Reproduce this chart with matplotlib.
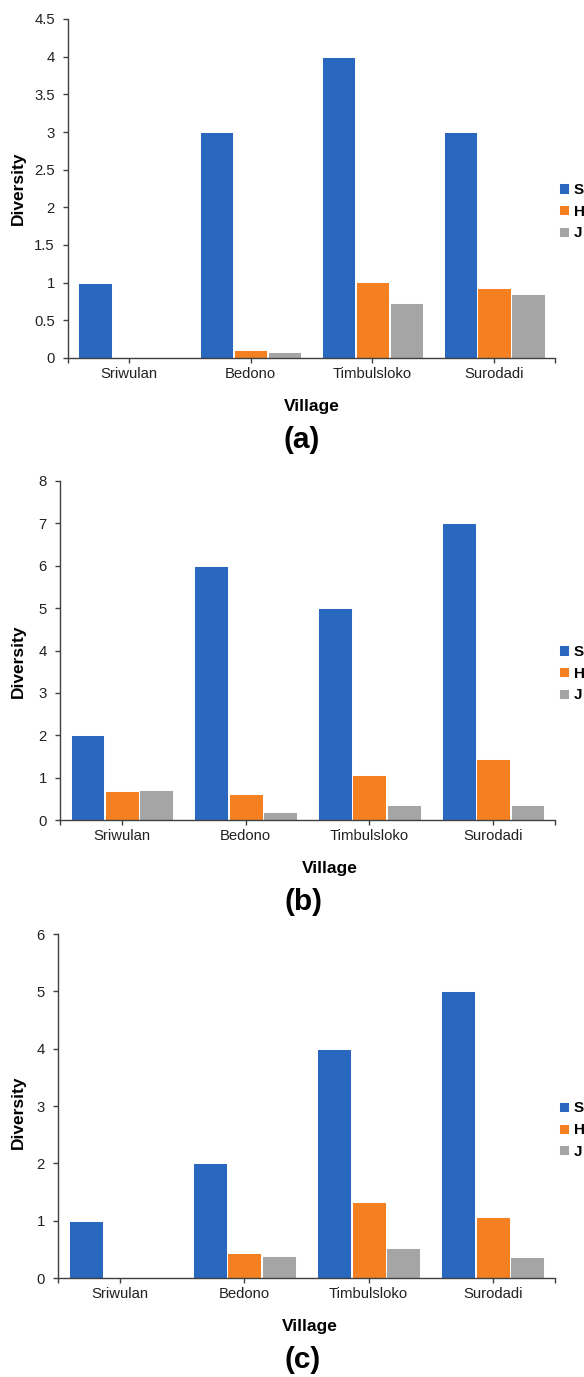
import numpy as np
import matplotlib
matplotlib.use('Agg')
import matplotlib.pyplot as plt

plt.rcParams['font.family'] = ['Liberation Sans', 'DejaVu Sans']

# ---- #
# data #
# ---- #
villages = ['Sriwulan', 'Bedono', 'Timbulsloko', 'Surodadi']
series_names = ['S', 'H', 'J']
colors = ['#2A67BF', '#F58022', '#A5A5A5']

# panel (a)
a_S = [1, 3, 4, 3]
a_H = [0, 0.10, 1.01, 0.93]
a_J = [0, 0.08, 0.73, 0.85]
# panel (b)
b_S = [2, 6, 5, 7]
b_H = [0.69, 0.61, 1.07, 1.43]
b_J = [0.71, 0.20, 0.35, 0.36]
# panel (c)
c_S = [1, 2, 4, 5]
c_H = [0, 0.44, 1.32, 1.06]
c_J = [0, 0.39, 0.52, 0.37]

W, H = 584, 1377
fig = plt.figure(figsize=(W / 100, H / 100), dpi=100)


def rect(left, top, right, bottom):
    return [left / W, 1 - bottom / H, (right - left) / W, (bottom - top) / H]


def fx(px):
    return px / W


def fy(py):
    return 1 - py / H


# axes box, values, y max, step, tag, legend y, ylabel y, xlabel x, tag x
panels = [
    (rect(68, 19, 555, 358), [a_S, a_H, a_J], 4.5, 0.5, '(a)', 211.5, 188.5, 312, 302),
    (rect(60, 481, 555, 820), [b_S, b_H, b_J], 8, 1, '(b)', 673.5, 661.5, 330, 303),
    (rect(58, 934, 555, 1278), [c_S, c_H, c_J], 6, 1, '(c)', 1130, 1112, 310, 303),
]

x = np.arange(len(villages))
bw = 0.274
dark = '#404040'

for pos, series, ymax, step, tag, leg_y, ylab_y, xlab_x, tag_x in panels:
    ax = fig.add_axes(pos)
    bars = []
    for i, vals in enumerate(series):
        b = ax.bar(x + (i - 1) * (bw + 0.004), vals, bw, color=colors[i],
                   edgecolor='white', linewidth=0.7, label=series_names[i])
        bars.append(b)
    ax.set_xlim(-0.5, 3.5)
    ax.set_ylim(0, ymax)
    yt = np.arange(0, ymax + step / 2, step)
    ax.set_yticks(yt)
    ax.set_yticklabels(['%g' % v for v in yt])
    ax.set_xticks(x)
    ax.set_xticklabels(villages)
    ax.set_xticks([-0.5, 3.5], minor=True)
    for s in ['top', 'right']:
        ax.spines[s].set_visible(False)
    for s in ['left', 'bottom']:
        ax.spines[s].set_color(dark)
        ax.spines[s].set_linewidth(1)
    ax.tick_params(axis='both', which='both', direction='out', length=3.6,
                   width=1, color=dark, labelsize=10.7, labelcolor='#222222')
    ax.tick_params(axis='x', pad=3)
    ax.tick_params(axis='y', pad=5.8)

    bottom_px = (1 - pos[1]) * H
    fig.text(fx(18.5), fy(ylab_y), 'Diversity', rotation=90, ha='center',
             va='center', fontsize=12.5, fontweight='bold')
    fig.text(fx(xlab_x), fy(bottom_px + 53), 'Village', ha='center',
             va='baseline', fontsize=12.5, fontweight='bold')
    fig.text(fx(tag_x), fy(bottom_px + 90), tag, ha='center', va='baseline',
             fontsize=21.5, fontweight='bold')
    fig.legend(handles=bars, labels=series_names, loc='center left',
               bbox_to_anchor=(fx(559), fy(leg_y)), frameon=False,
               borderpad=0, borderaxespad=0, handlelength=0.65,
               handleheight=0.65, handletextpad=0.3, labelspacing=0.5,
               prop={'weight': 'bold', 'size': 11})

plt.savefig('out.png', dpi=100)
